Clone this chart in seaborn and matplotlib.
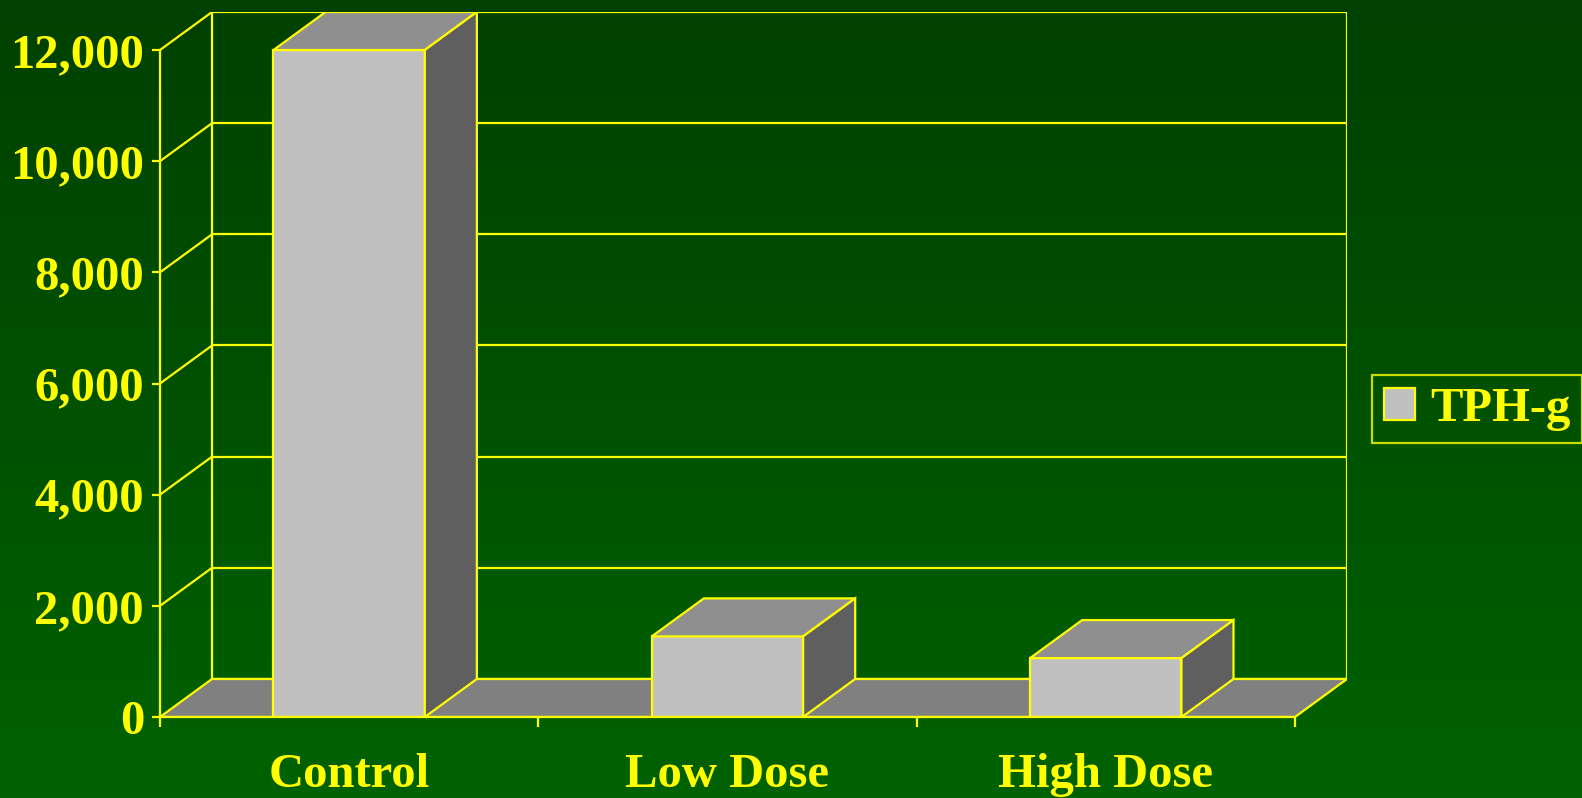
import numpy as np
import matplotlib
matplotlib.use("Agg")
import matplotlib.pyplot as plt
import seaborn as sns
from matplotlib.patches import Polygon, Patch
from matplotlib.ticker import FuncFormatter

# ---- data ----
categories = ["Control", "Low Dose", "High Dose"]
tph_g = [12000, 1450, 1060]
series_name = "TPH-g"
y_ticks = [0, 2000, 4000, 6000, 8000, 10000, 12000]

# ---- style ----
YEL = "#FFFF00"
LW = 1.6
FRONT = "#C0C0C0"
TOP = "#8F8F8F"
SIDE = "#5F5F5F"
FLOOR = "#808080"
DX = 0.1375   # depth offset (category units)
DY = 684      # depth offset (value units)
FS = 35

sns.set_style("white")
plt.rcParams["font.family"] = ["Liberation Serif", "DejaVu Serif"]
plt.rcParams["font.weight"] = "bold"

fig = plt.figure(figsize=(15.82, 7.98), dpi=100)

# background gradient
bg = fig.add_axes([0, 0, 1, 1], zorder=-10)
t = np.linspace(0, 1, 256)[:, None, None]
c_top = np.array([0, 0x40, 0]) / 255.0
c_bot = np.array([0, 0x62, 0]) / 255.0
img = c_top[None, None, :] * (1 - t) + c_bot[None, None, :] * t
img = np.repeat(img, 2, axis=1)
bg.imshow(img, aspect="auto", extent=[0, 1, 0, 1], origin="upper")
bg.set_axis_off()

ax = fig.add_axes([160 / 1582, 81 / 798, 1187 / 1582, 705 / 798])
ax.patch.set_alpha(0)

sns.barplot(x=categories, y=tph_g, width=0.4, color=FRONT, saturation=1,
            edgecolor=YEL, linewidth=LW, zorder=3, ax=ax)
bars = list(ax.patches)

x_lo, x_hi = -0.5, len(categories) - 0.5
y_top = y_ticks[-1]

# back wall gridlines
for y in y_ticks:
    ax.plot([x_lo + DX, x_hi + DX], [y + DY, y + DY], color=YEL, lw=LW, zorder=1,
            solid_capstyle="butt")
# left wall diagonals
for y in y_ticks[1:]:
    ax.plot([x_lo, x_lo + DX], [y, y + DY], color=YEL, lw=LW, zorder=1)
# wall verticals
ax.plot([x_lo + DX] * 2, [DY, y_top + DY], color=YEL, lw=LW, zorder=1)
ax.plot([x_hi + DX] * 2, [DY, y_top + DY], color=YEL, lw=LW, zorder=1)

# floor
ax.add_patch(Polygon([(x_lo, 0), (x_hi, 0), (x_hi + DX, DY), (x_lo + DX, DY)],
                     closed=True, fc=FLOOR, ec=YEL, lw=LW, zorder=2))

# 3D faces on bars
for b in bars:
    x0 = b.get_x()
    w = b.get_width()
    h = b.get_height()
    ax.add_patch(Polygon([(x0, h), (x0 + w, h), (x0 + w + DX, h + DY), (x0 + DX, h + DY)],
                         closed=True, fc=TOP, ec=YEL, lw=LW, zorder=3,
                         joinstyle="miter"))
    ax.add_patch(Polygon([(x0 + w, 0), (x0 + w + DX, DY), (x0 + w + DX, h + DY), (x0 + w, h)],
                         closed=True, fc=SIDE, ec=YEL, lw=LW, zorder=3,
                         joinstyle="miter"))

ax.set_xlim(x_lo, x_hi + DX)
ax.set_ylim(0, y_top + DY)
ax.set_xlabel("")
ax.set_ylabel("")

for s in ["top", "right"]:
    ax.spines[s].set_visible(False)
ax.spines["left"].set_bounds(0, y_top)
ax.spines["bottom"].set_bounds(x_lo, x_hi)
for s in ["left", "bottom"]:
    ax.spines[s].set_color(YEL)
    ax.spines[s].set_linewidth(LW)
    ax.spines[s].set_zorder(4)

ax.set_yticks(y_ticks)
ax.yaxis.set_major_formatter(FuncFormatter(lambda v, p: f"{v:,.0f}"))
ax.tick_params(axis="y", colors=YEL, length=6, width=LW, labelsize=FS, pad=5.5,
               direction="out", left=True)
ax.set_xticks(range(len(categories)), categories)
ax.set_xticks(np.arange(x_lo, x_hi + 0.01, 1.0), minor=True)
ax.tick_params(axis="x", which="major", length=0, labelsize=FS, labelcolor=YEL, pad=26)
ax.tick_params(axis="x", which="minor", length=7.5, width=LW, color=YEL,
               direction="out", bottom=True)
for lab in ax.get_xticklabels() + ax.get_yticklabels():
    lab.set_fontweight("bold")

leg = fig.legend(handles=[Patch(fc=FRONT, ec=YEL, lw=LW, label=series_name)],
                 loc="center left", bbox_to_anchor=(1372 / 1582, (798 - 409) / 798),
                 frameon=True, fancybox=False, edgecolor=YEL, facecolor="none",
                 fontsize=FS, labelcolor=YEL, handlelength=0.64, handleheight=0.64,
                 handletextpad=0.3, borderpad=0.25, borderaxespad=0)
leg.get_frame().set_linewidth(LW)
for txt in leg.get_texts():
    txt.set_fontweight("bold")

fig.savefig("out.png", dpi=100)
